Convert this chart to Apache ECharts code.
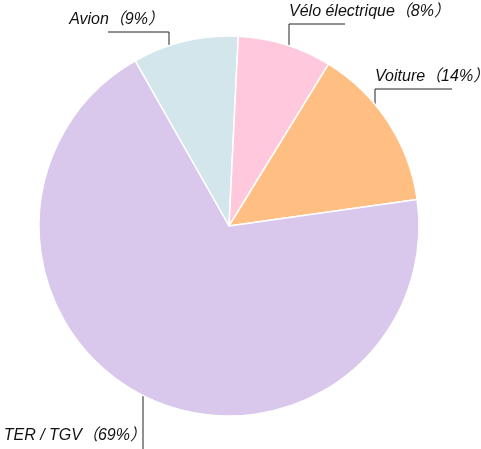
<!DOCTYPE html>
<html>
<head>
<meta charset="utf-8">
<script src="https://cdn.jsdelivr.net/npm/echarts@6/dist/echarts.min.js"></script>
<style>html,body{margin:0;padding:0;background:#fff}#c{width:481px;height:449px}</style>
</head>
<body>
<div id="c"></div>
<script>
// Data
const categories = ['Avion', 'Vélo électrique', 'Voiture', 'TER / TGV'];
const values = [9, 8, 14, 69];
const colors = ['#d3e6eb', '#ffc8dc', '#ffbf83', '#d9c8ec'];

// Layout (pixels)
const CX = 229, CY = 226, R = 190;
// label leader layout per category: anchor dx from centre, line y, horizontal length (signed), side
const labelCfg = {
  'Avion':           { dx: -60,  lineY: 32,  len: -61, side: 'top' },
  'Vélo électrique': { dx: 60,   lineY: 24,  len: 56,  side: 'top' },
  'Voiture':         { dx: 146,  lineY: 89,  len: 77,  side: 'top' },
  'TER / TGV':       { dx: -86,  lineY: 460, len: 0,   side: 'bottom' }
};

const chart = echarts.init(document.getElementById('c'), null, { renderer: 'canvas' });
const data = categories.map((c, i) => ({ name: c, value: values[i], itemStyle: { color: colors[i] } }));

chart.setOption({
  animation: false,
  series: [{
    type: 'pie',
    center: [CX, CY],
    radius: [0, R],
    startAngle: 119.6,
    clockwise: true,
    data: data,
    itemStyle: { borderColor: '#ffffff', borderWidth: 1.5 },
    label: {
      show: true,
      position: 'outside',
      alignTo: 'none',
      overflow: 'none',
      formatter: p => p.name + '（' + Math.round(p.percent) + '%）',
      fontFamily: "'Liberation Sans', 'Noto Sans CJK SC', sans-serif",
      fontStyle: 'italic',
      fontSize: 16,
      color: '#111'
    },
    labelLine: { show: true, lineStyle: { color: '#222', width: 1 } },
    labelLayout: function (params) {
      const name = categories[params.dataIndex];
      const cfg = labelCfg[name];
      const ax = CX + cfg.dx;
      const h = Math.sqrt(R * R - cfg.dx * cfg.dx);
      if (cfg.side === 'top') {
        const ey = CY - h;
        const right = cfg.len > 0;
        return {
          x: right ? ax : ax - 5,
          y: cfg.lineY - 4,
          align: right ? 'left' : 'right',
          verticalAlign: 'bottom',
          labelLinePoints: [[ax, ey], [ax, cfg.lineY], [ax + cfg.len, cfg.lineY]]
        };
      } else {
        const ey = CY + h;
        return {
          x: ax + 3,
          y: 444,
          align: 'right',
          verticalAlign: 'bottom',
          labelLinePoints: [[ax, ey], [ax, cfg.lineY], [ax, cfg.lineY]]
        };
      }
    }
  }]
});
</script>
</body>
</html>
